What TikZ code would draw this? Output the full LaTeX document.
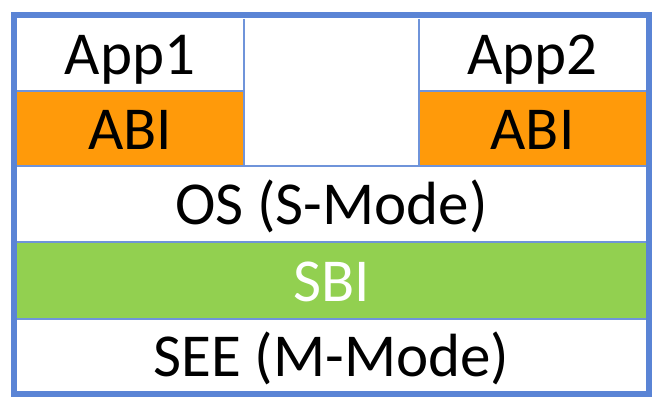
\documentclass[tikz,border=0pt]{standalone}
\usepackage{fontspec}
\setmainfont{Carlito}
\definecolor{framecol}{HTML}{5A84D5}
\definecolor{linecol}{HTML}{6F94DA}
\definecolor{abicol}{HTML}{FF9A0A}
\definecolor{sbicol}{HTML}{92D050}
\tikzset{
  lbl/.style={anchor=base, inner sep=0pt, font=\fontsize{61}{72}\selectfont, text=black},
  thin/.style={draw=linecol, line width=2pt},
  frame/.style={draw=framecol, line width=6pt}
}
\begin{document}
\begin{tikzpicture}[x=1pt,y=-1pt]
\useasboundingbox (0,0) rectangle (666,406);
% fills
\fill[white] (14,15.5) rectangle (649,393.5);
\fill[abicol] (17,91) rectangle (244,166);
\fill[abicol] (419,91) rectangle (646,166);
\fill[sbicol] (17,242) rectangle (646,319);
% thin separators
\draw[thin] (17,91) -- (244,91);
\draw[thin] (419,91) -- (646,91);
\draw[thin] (17,166) -- (646,166);
\draw[thin] (17,242) -- (646,242);
\draw[thin] (17,319) -- (646,319);
\draw[thin] (244,19) -- (244,166);
\draw[thin] (419,19) -- (419,166);
% outer frame
\draw[frame] (14,15.5) rectangle (649,393.5);
% labels
\node[lbl] (app1) at (130,75) {App1};
\node[lbl] (abi1) at (130,150) {ABI};
\node[lbl] (app2) at (532.5,75) {App2};
\node[lbl] (abi2) at (532.5,150) {ABI};
\node[lbl] (os) at (331.5,224) {OS (S-Mode)};
\node[lbl, text=white] (sbi) at (331.5,301) {SBI};
\node[lbl] (see) at (331.5,376) {SEE (M-Mode)};
\end{tikzpicture}
\end{document}
